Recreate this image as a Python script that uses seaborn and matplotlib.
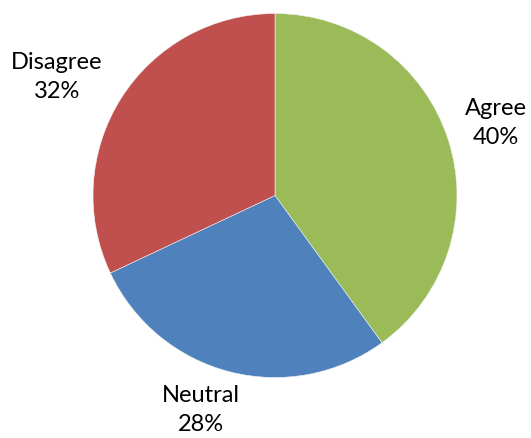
import matplotlib
matplotlib.use("Agg")
import matplotlib.pyplot as plt
import seaborn as sns

categories = ["Agree", "Neutral", "Disagree"]
shares = [40, 28, 32]
colors = ["#9BBB59", "#4F81BD", "#C0504D"]

sns.set_theme(style="white")
plt.rcParams["font.family"] = ["Lato", "DejaVu Sans"]

W, H = 531, 438
fig = plt.figure(figsize=(W / 100, H / 100), dpi=100)
ax = fig.add_axes([0, 0, 1, 1])

# pie geometry in pixels
cx, cy, r = 275, 195.5, 182

ax.pie(
    shares,
    colors=colors,
    startangle=90,
    counterclock=False,
    radius=1,
    center=(0, 0),
    wedgeprops=dict(edgecolor="#f2f2f2", linewidth=0.4),
    frame=True,
)
ax.set_xlim(-cx / r, (W - cx) / r)
ax.set_ylim(-(H - cy) / r, cy / r)
ax.set_aspect("auto")
ax.axis("off")

# label centres in pixel coordinates
label_px = {"Agree": (496, 123), "Neutral": (201, 410), "Disagree": (57, 77)}
for cat, val in zip(categories, shares):
    px, py = label_px[cat]
    ax.text((px - cx) / r, (cy - py) / r, f"{cat}\n{val}%",
            ha="center", va="center", fontsize=17, color="black",
            linespacing=1.45)

fig.savefig("out.png", dpi=100)
